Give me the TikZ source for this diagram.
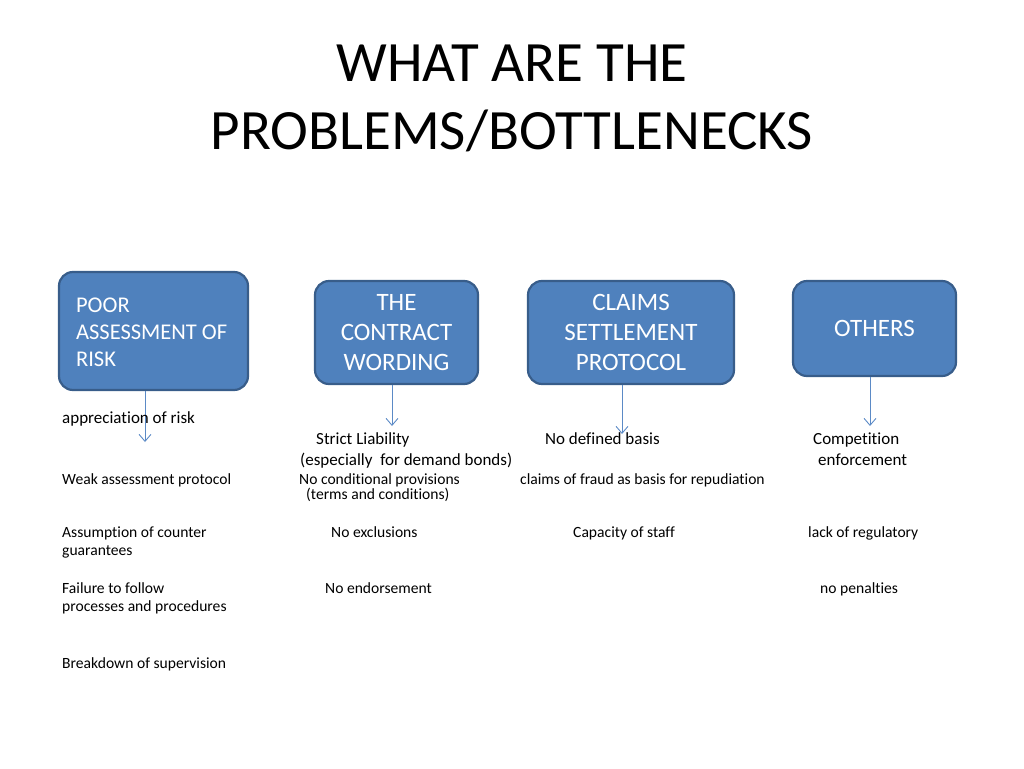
\documentclass[tikz,border=0pt]{standalone}
\usepackage{fontspec}
\setmainfont[Ligatures=NoCommon]{Carlito}
\usetikzlibrary{arrows.meta}
\definecolor{boxfill}{HTML}{4F81BD}
\definecolor{boxline}{HTML}{385D8A}
\definecolor{arrcol}{HTML}{5B8AC6}
\tikzset{
  hbox/.style={draw=boxline, line width=2.2pt, fill=boxfill, rounded corners=14pt, text=white,
     font=\fontsize{25}{30}\selectfont, inner sep=0pt},
  big/.style={anchor=base west, inner sep=0pt, font=\fontsize{17}{20}\selectfont},
  lbl/.style={anchor=base west, inner sep=0pt, font=\fontsize{15.6}{20}\selectfont},
  arr/.style={draw=arrcol, line width=0.9pt, -{Straight Barb[length=7pt,width=12pt]}},
}
\begin{document}
\begin{tikzpicture}[x=1pt,y=-1pt]
\useasboundingbox (0,0) rectangle (1024,768);
% title
\node[font=\fontsize{57}{68}\selectfont, align=center, inner sep=0pt] (title) at (512,98) {WHAT ARE THE\\PROBLEMS/BOTTLENECKS};
% boxes
\node[hbox, minimum width=189pt, minimum height=118pt] (b1) at (153.5,331) {};
\node[anchor=west, inner sep=0pt, text=white, align=left, font=\fontsize{22.5}{27}\selectfont] (b1t) at ([xshift=18pt,yshift=-1pt]b1.west) {POOR\\ASSESSMENT OF\\RISK};
\node[hbox, minimum width=163pt, minimum height=103pt, text width=150pt, align=center] (b2) at (396.5,332.5) {THE\\CONTRACT\\WORDING};
\node[hbox, minimum width=206pt, minimum height=103pt, text width=190pt, align=center] (b3) at (631,332.5) {CLAIMS\\SETTLEMENT\\PROTOCOL};
\node[hbox, minimum width=163pt, minimum height=95pt, text width=150pt, align=center] (b4) at (874.5,328.5) {OTHERS};
% arrow ends
\coordinate (a1) at (145,442);
\coordinate (a2) at (392,426);
\coordinate (a3) at (622,434);
\coordinate (a4) at (870,426);
\draw[arr] (b1.south -| a1) -- (a1);
\draw[arr] (b2.south -| a2) -- (a2);
\draw[arr] (b3.south -| a3) -- (a3);
\draw[arr] (b4.south -| a4) -- (a4);
% column 1
\node[big] (t1) at (62,423) {appreciation of risk};
\node[lbl] (t2) at (62,484) {Weak assessment protocol};
\node[lbl] (t3) at (62,537) {Assumption of counter};
\node[lbl] (t4) at (62,555) {guarantees};
\node[lbl] (t5) at (62,593) {Failure to follow};
\node[lbl] (t6) at (62,611) {processes and procedures};
\node[lbl] (t7) at (62,668) {Breakdown of supervision};
% column 2
\node[big] (u1) at (316,444) {Strict Liability};
\node[big] (u2) at (300,465) {(especially\ \ for demand bonds)};
\node[lbl] (u3) at (299,484) {No conditional provisions};
\node[lbl] (u4) at (306,499) {(terms and conditions)};
\node[lbl] (u5) at (331,537) {No exclusions};
\node[lbl] (u6) at (325,593) {No endorsement};
% column 3
\node[big] (v1) at (545,444) {No defined basis};
\node[lbl] (v2) at (520,484) {claims of fraud as basis for repudiation};
\node[lbl] (v3) at (573,537) {Capacity of staff};
% column 4
\node[big] (w1) at (813,444) {Competition};
\node[big] (w2) at (818,465) {enforcement};
\node[lbl] (w3) at (808,537) {lack of regulatory};
\node[lbl] (w4) at (820,593) {no penalties};
\end{tikzpicture}
\end{document}
